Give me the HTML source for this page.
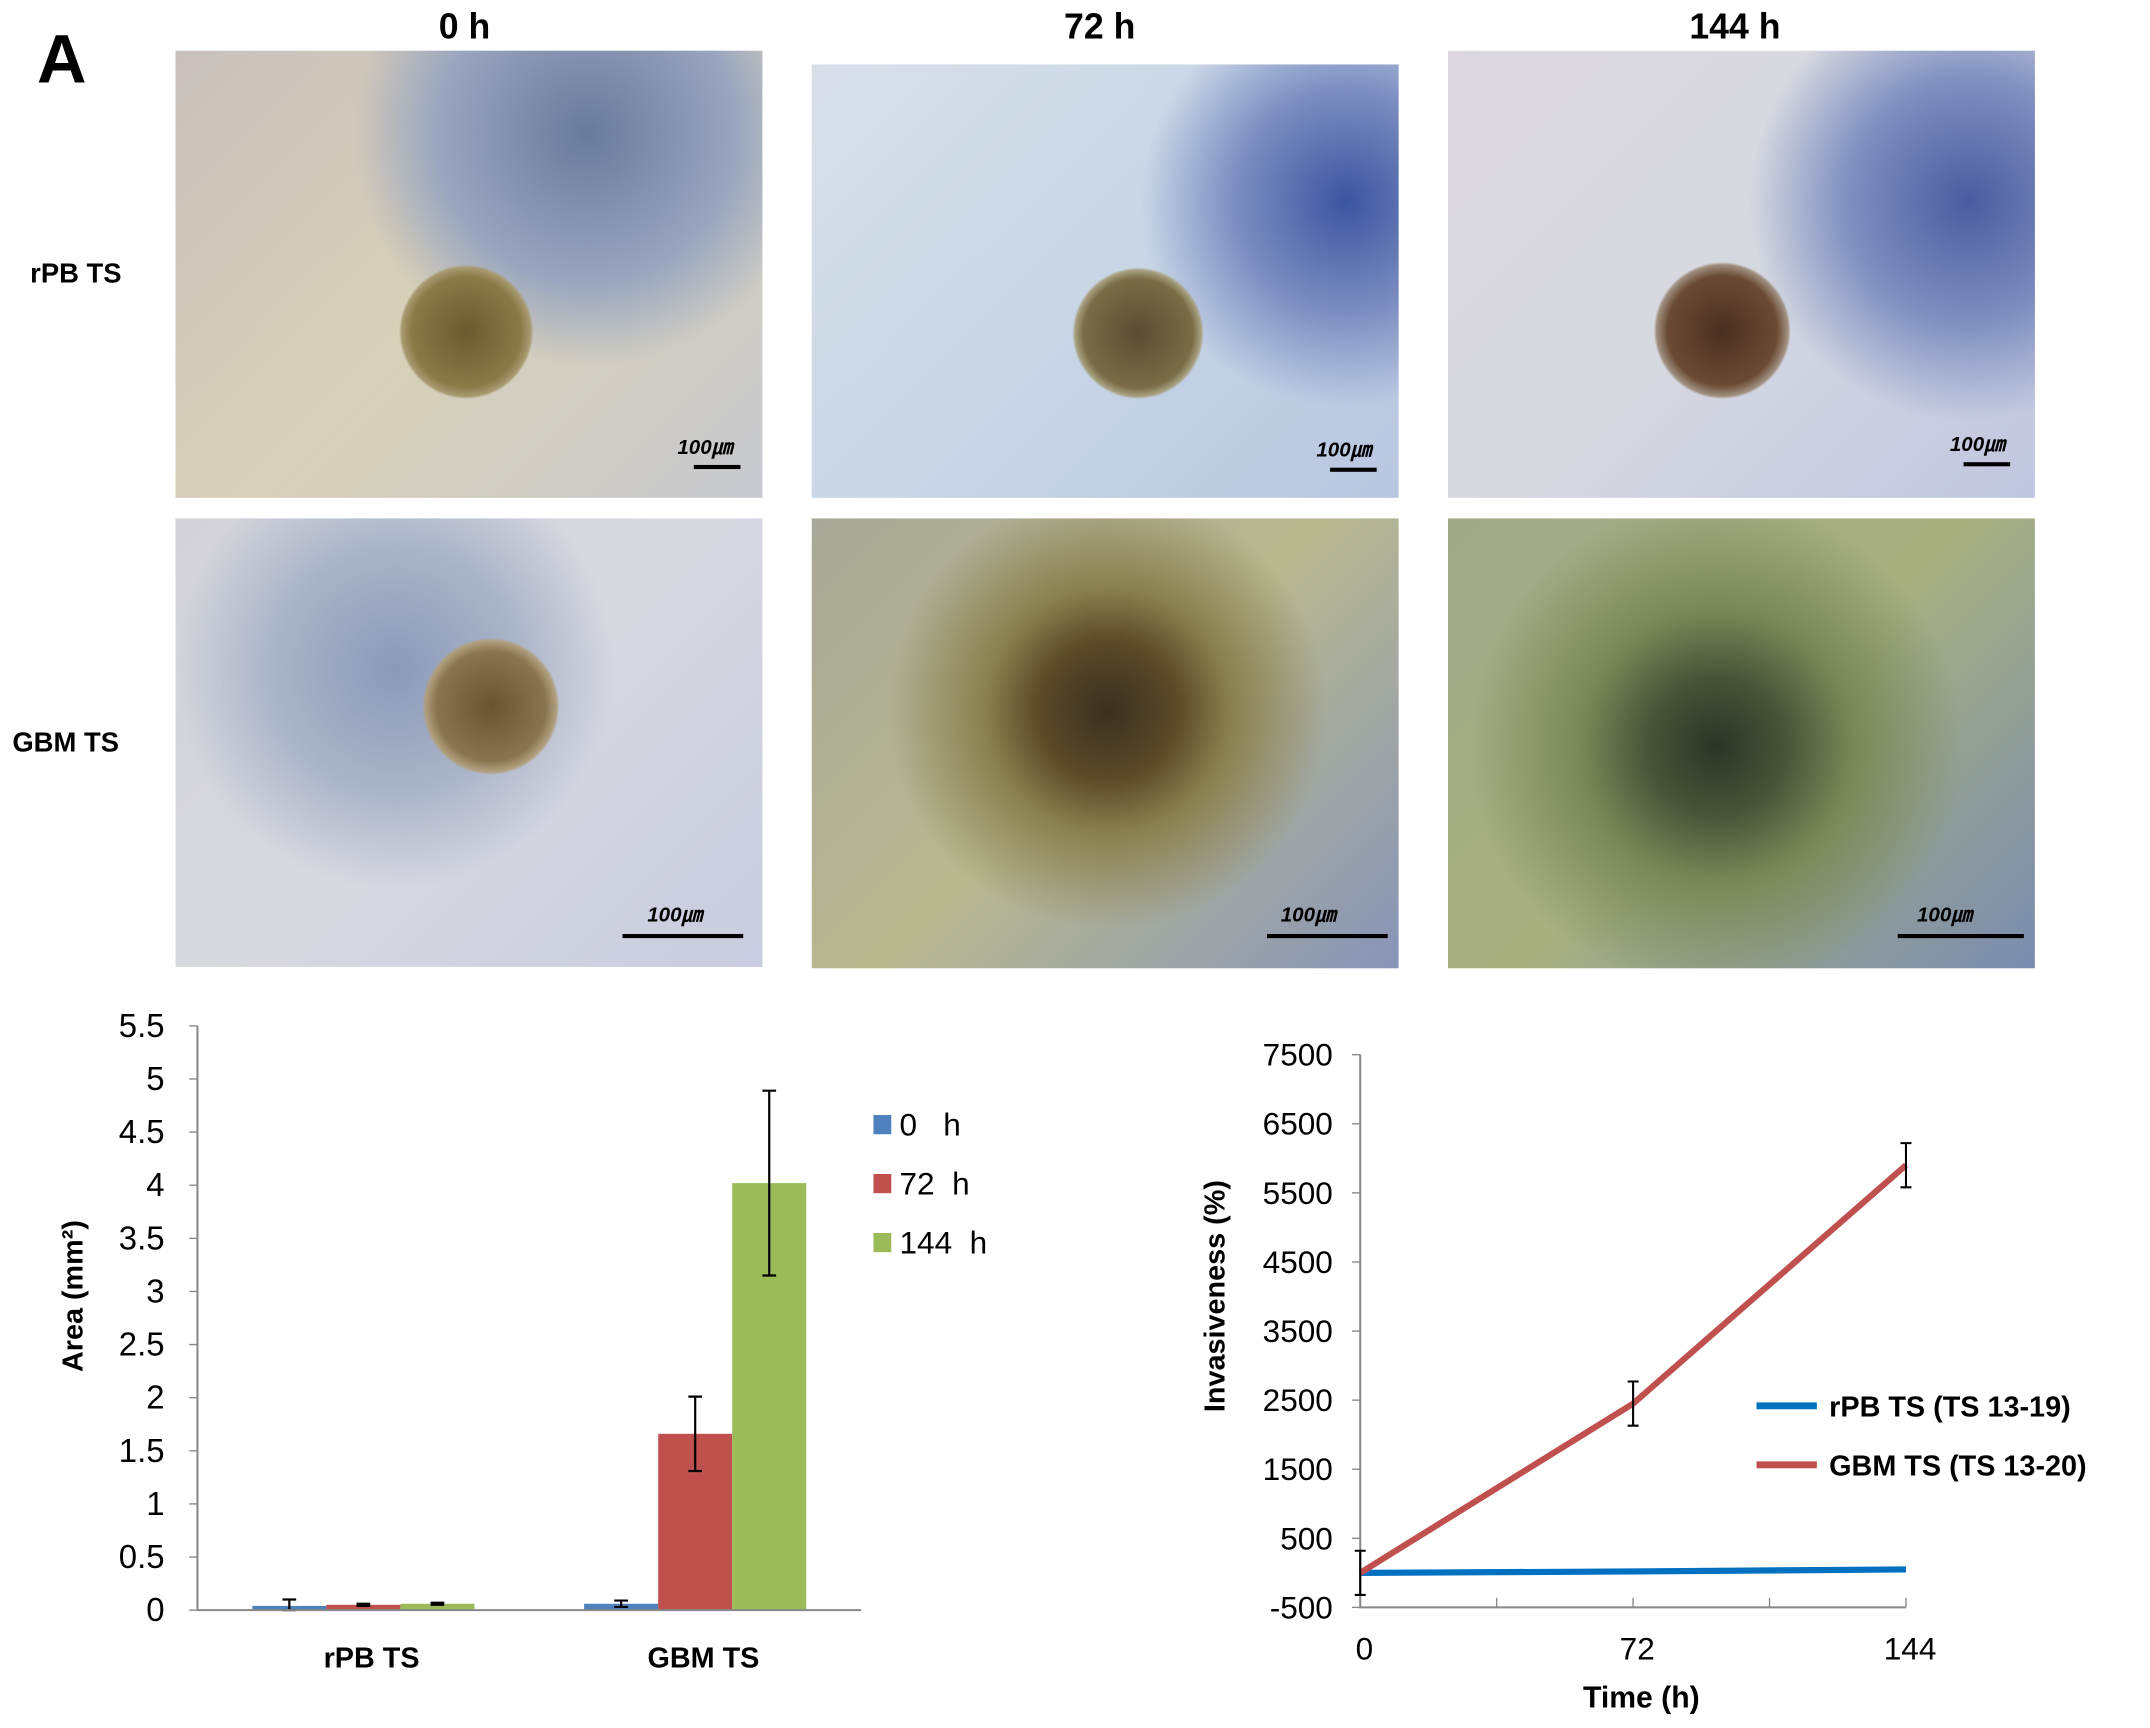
<!DOCTYPE html>
<html><head><meta charset="utf-8"><style>
html,body{margin:0;padding:0;background:#fff;}
#root{position:absolute;left:0;top:0;width:1568px;height:1260px;transform-origin:0 0;transform:scale(1.3712,1.3715);font-family:"Liberation Sans",sans-serif;}
.ph{position:absolute;overflow:hidden;}
.t{position:absolute;font-weight:bold;color:#000;white-space:nowrap;}
.sb{position:absolute;font-weight:bold;font-style:italic;font-size:15px;color:#000;}
.sbl{position:absolute;height:3px;background:#000;}
</style></head><body>
<div id="root">
<div class="t" style="left:27px;top:14px;font-size:50px;">A</div>
<div class="t" style="left:320px;top:4px;font-size:26px;">0 h</div>
<div class="t" style="left:776px;top:4px;font-size:26px;">72 h</div>
<div class="t" style="left:1232px;top:4px;font-size:26px;">144 h</div>
<div class="t" style="left:22px;top:189px;font-size:20px;">rPB TS</div>
<div class="t" style="left:9px;top:531px;font-size:20px;">GBM TS</div>

<div class="ph" style="left:128px;top:37px;width:428px;height:326px;background:radial-gradient(circle at 212px 205px,#6a5a30 0,#8a7a48 40px,#a89a70 47px,transparent 49px),radial-gradient(circle at 300px 60px,#6a7a9c 0,#9aa6bf 110px,transparent 170px),linear-gradient(135deg,#c9c0bd,#d8d0b8 50%,#c7c9cf);"><div class="sb" style="left:366px;top:278px">100㎛</div><div class="sbl" style="left:378px;top:302px;width:34px"></div></div>
<div class="ph" style="left:592px;top:47px;width:428px;height:316px;background:radial-gradient(circle at 238px 196px,#5a4c30 0,#7a6c48 40px,#a8a080 46px,transparent 48px),radial-gradient(circle at 390px 100px,#3c55a0 0,#7a8cc0 80px,transparent 150px),linear-gradient(135deg,#d8dfe9,#c8d6e6 50%,#b8c6e0);"><div class="sb" style="left:368px;top:270px">100㎛</div><div class="sbl" style="left:378px;top:294px;width:34px"></div></div>
<div class="ph" style="left:1056px;top:37px;width:428px;height:326px;background:radial-gradient(circle at 200px 204px,#4a3020 0,#6a4a34 40px,#a09080 48px,transparent 50px),radial-gradient(circle at 380px 110px,#4a5ca0 0,#8090c0 90px,transparent 160px),linear-gradient(135deg,#ddd8e0,#d6d8e0 50%,#c0c6e0);"><div class="sb" style="left:366px;top:276px">100㎛</div><div class="sbl" style="left:376px;top:300px;width:34px"></div></div>

<div class="ph" style="left:128px;top:378px;width:428px;height:327px;background:radial-gradient(circle at 230px 137px,#6a5430 0,#8a7450 40px,#b0a080 48px,transparent 50px),radial-gradient(circle at 160px 110px,#8a9ab8 0,#aab4c8 90px,transparent 160px),linear-gradient(135deg,#d2d2d8,#d8d8e0 50%,#c8cce0);"><div class="sb" style="left:344px;top:278px">100㎛</div><div class="sbl" style="left:326px;top:303px;width:88px"></div></div>
<div class="ph" style="left:592px;top:378px;width:428px;height:328px;background:radial-gradient(circle at 216px 140px,#3c3020 0,#5a4a28 50px,#8a8050 90px,transparent 160px),linear-gradient(135deg,#a8a898,#b8b890 50%,#8894b8);"><div class="sb" style="left:342px;top:278px">100㎛</div><div class="sbl" style="left:332px;top:303px;width:88px"></div></div>
<div class="ph" style="left:1056px;top:378px;width:428px;height:328px;background:radial-gradient(circle at 196px 166px,#2c3428 0,#485438 50px,#7a8858 100px,transparent 180px),linear-gradient(135deg,#a0a888,#a8b080 50%,#7a8cb0);"><div class="sb" style="left:342px;top:278px">100㎛</div><div class="sbl" style="left:328px;top:303px;width:92px"></div></div>

<svg id="bar" style="position:absolute;left:0;top:720px" width="760" height="540"></svg>
<svg id="line" style="position:absolute;left:840px;top:720px" width="728" height="540"></svg>
</div>
<script>
const barCats=["rPB TS","GBM TS"];
const barSeries=["0   h","72  h","144  h"];
const barVals0=[0.04,0.06];
const barVals72=[0.05,1.66];
const barVals144=[0.06,4.02];
const barErr0=[0.06,0.03];
const barErr72=[0.01,0.35];
const barErr144=[0.01,0.87];
const barTicks=[0,0.5,1,1.5,2,2.5,3,3.5,4,4.5,5,5.5];
const lineX=[0,72,144];
const lineRpb=[0,20,50];
const lineGbm=[0,2450,5900];
const lineGbmErr=[320,320,320];
const lineTicks=[-500,500,1500,2500,3500,4500,5500,6500,7500];
const lineSeries=["rPB TS (TS 13-19)","GBM TS (TS 13-20)"];
const NS="http://www.w3.org/2000/svg";
function mk(svg,tag,at,txt){const e=document.createElementNS(NS,tag);for(const k in at)e.setAttribute(k,at[k]);if(txt!==undefined)e.textContent=txt;svg.appendChild(e);return e;}
(function(){
const s=document.getElementById('bar');const oy=720;
const X0=144,X1=628,Y0=1174-oy,Y1=748-oy;
const y=v=>Y0-(v/5.5)*(Y0-Y1);
const cw=(X1-X0)/barCats.length,bw=54;
const cols=["#4f81bd","#c0504d","#9bbb59"];
const vals=[barVals0,barVals72,barVals144],errs=[barErr0,barErr72,barErr144];
barTicks.forEach(t=>{const l=mk(s,'line',{x1:X0-6,x2:X0,y1:y(t),y2:y(t),stroke:'#888'});

const tx=mk(s,'text',{x:X0-24,y:y(t)+8,'text-anchor':'end','font-size':24,'font-family':'Liberation Sans'},String(t));
});
barCats.forEach((c,i)=>{const cx=X0+cw*(i+0.5);
vals.forEach((vs,j)=>{const x=cx-1.5*bw+j*bw;const r=mk(s,'rect',{x:x,y:y(vs[i]),width:bw,height:Y0-y(vs[i]),fill:cols[j]});

const ex=x+bw/2,e=errs[j][i];
const p=mk(s,'path',{d:`M${ex},${y(vs[i]+e)}V${y(Math.max(0,vs[i]-e))}M${ex-5},${y(vs[i]+e)}h10M${ex-5},${y(Math.max(0,vs[i]-e))}h10`,stroke:'#000','stroke-width':1.6,fill:'none'});
});
const tl=mk(s,'text',{x:cx+6,y:Y0+42,'text-anchor':'middle','font-size':21,'font-weight':'bold','font-family':'Liberation Sans'},c);
});
const ax=mk(s,'path',{d:`M${X0},${Y1}V${Y0}H${X1}`,stroke:'#888','stroke-width':1.5,fill:'none'});

const yt=mk(s,'text',{x:0,y:0,transform:`translate(60,${945-oy}) rotate(-90)`,'text-anchor':'middle','font-size':21,'font-weight':'bold','font-family':'Liberation Sans'},'Area (mm²)');

barSeries.forEach((n,j)=>{const ly=813-oy+j*43;
const r=mk(s,'rect',{x:637,y:ly,width:13,height:14,fill:cols[j]});
const t=mk(s,'text',{x:656,y:ly+15,'font-size':23,'font-family':'Liberation Sans','xml:space':'preserve'},n);t.style.whiteSpace='pre';
});
})();
(function(){
const s=document.getElementById('line');const ox=840,oy=720;
const X0=992-ox,X1=1390-ox,Y0=1172-oy,Y1=769-oy;
const x=v=>X0+(v/144)*(X1-X0);const y=v=>Y0-((v+500)/8000)*(Y0-Y1);
lineTicks.forEach(t=>{const l=mk(s,'line',{x1:X0-6,x2:X0,y1:y(t),y2:y(t),stroke:'#888'});

const tx=mk(s,'text',{x:X0-20,y:y(t)+8,'text-anchor':'end','font-size':23,'font-family':'Liberation Sans'},String(t));
});
[0,36,72,108,144].forEach(v=>{const l=mk(s,'line',{x1:x(v),x2:x(v),y1:Y0,y2:Y0-7,stroke:'#888'});});
lineX.forEach(v=>{const t=mk(s,'text',{x:x(v)+3,y:Y0+38,'text-anchor':'middle','font-size':23,'font-family':'Liberation Sans'},String(v));
});
const ax=mk(s,'path',{d:`M${X0},${Y1}V${Y0}H${X1}`,stroke:'#888','stroke-width':1.5,fill:'none'});

const b=mk(s,'polyline',{points:lineX.map((v,i)=>x(v)+','+y(lineRpb[i])).join(' '),stroke:'#0070c0','stroke-width':4.5,fill:'none'});

const r=mk(s,'polyline',{points:lineX.map((v,i)=>x(v)+','+y(lineGbm[i])).join(' '),stroke:'#c0504d','stroke-width':4.5,fill:'none'});

lineX.forEach((v,i)=>{const ex=x(v),a=y(lineGbm[i]+lineGbmErr[i]),c=y(lineGbm[i]-lineGbmErr[i]);
const p=mk(s,'path',{d:`M${ex},${a}V${c}M${ex-4},${a}h8M${ex-4},${c}h8`,stroke:'#000','stroke-width':1.5,fill:'none'});
});
const xt=mk(s,'text',{x:1197-ox,y:1245-oy,'text-anchor':'middle','font-size':22,'font-weight':'bold','font-family':'Liberation Sans'},'Time (h)');

const yt=mk(s,'text',{x:0,y:0,transform:`translate(${893-ox},${945-oy}) rotate(-90)`,'text-anchor':'middle','font-size':21,'font-weight':'bold','font-family':'Liberation Sans'},'Invasiveness (%)');

const lc=['#0070c0','#c0504d'];
lineSeries.forEach((n,j)=>{const ly=1025-oy+j*43;
const l=mk(s,'line',{x1:1281-ox,x2:1325-ox,y1:ly,y2:ly,stroke:lc[j],'stroke-width':5});
const t=mk(s,'text',{x:1334-ox,y:ly+8,'font-size':21,'font-weight':'bold','font-family':'Liberation Sans'},n);
});
})();
</script>
</body></html>
